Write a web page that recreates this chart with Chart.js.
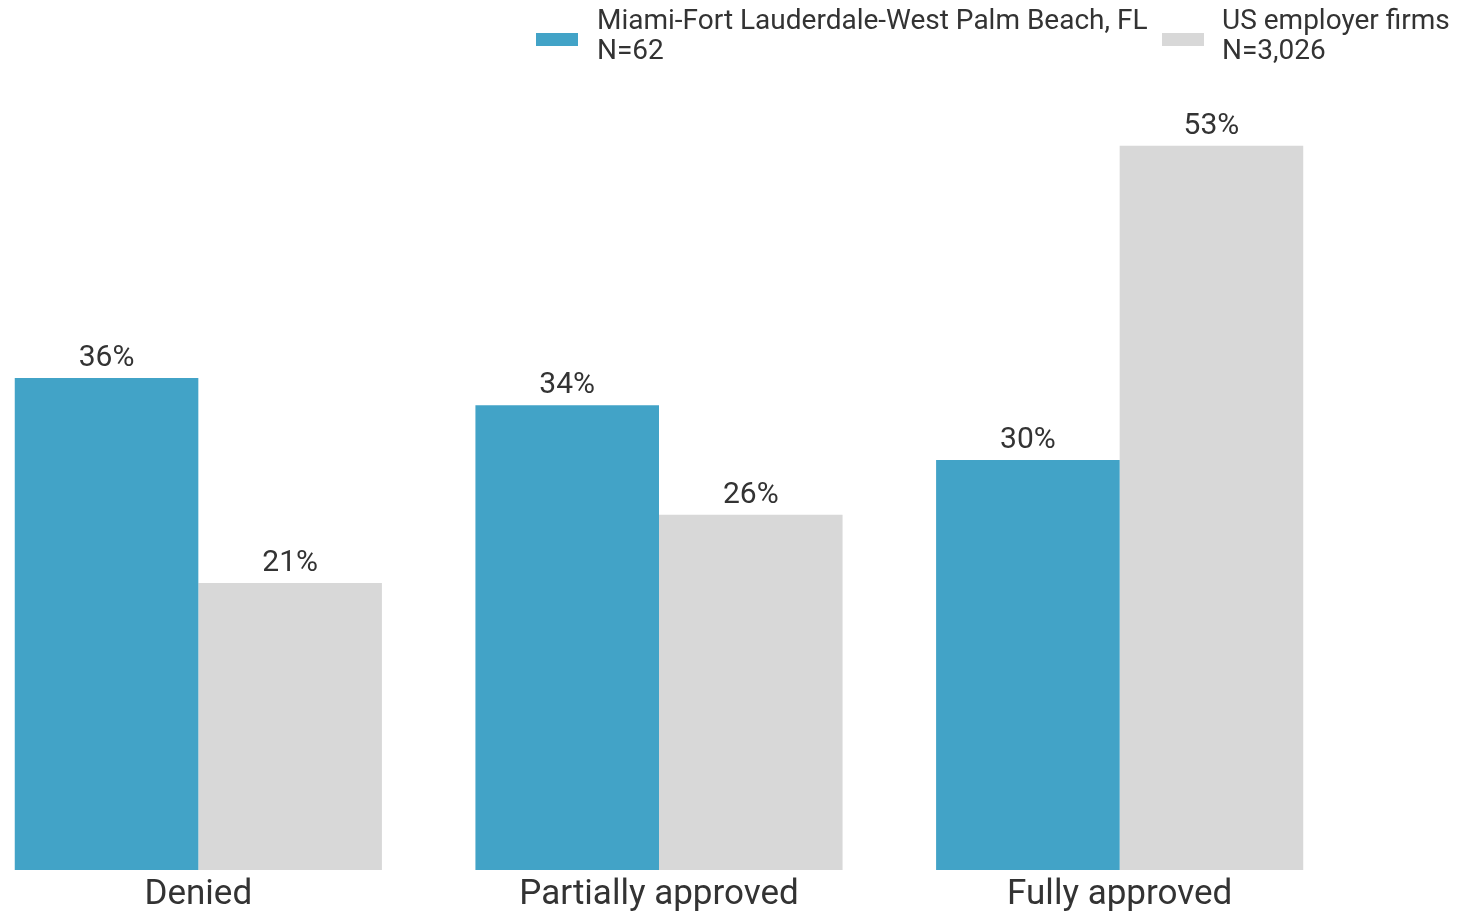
<!DOCTYPE html>
<html>
<head>
<meta charset="utf-8">
<script src="https://cdn.jsdelivr.net/npm/chart.js@4/dist/chart.umd.min.js"></script>
<style>
  html, body { margin: 0; padding: 0; background: #ffffff; }
  #page { position: relative; width: 1460px; height: 915px; overflow: hidden; background: #fff; font-family: Roboto, "Noto Sans", sans-serif; }
  #wrap { position: absolute; left: -32px; top: 0; width: 1382px; height: 920px; }
  .leg { position: absolute; color: #333; font-size: 28px; line-height: 30px; }
  .sw { position: absolute; width: 42px; height: 13px; }
</style>
</head>
<body>
<div id="page">
  <div id="wrap"><canvas id="c"></canvas></div>
  <div class="sw" id="sw0" style="left:536px; top:33px;"></div>
  <div class="leg" id="lg0" style="left:597px; top:5px;"></div>
  <div class="sw" id="sw1" style="left:1162px; top:33px;"></div>
  <div class="leg" id="lg1" style="left:1222px; top:5px;"></div>
</div>
<script>
const categories = ["Denied", "Partially approved", "Fully approved"];
const seriesNames = ["Miami-Fort Lauderdale-West Palm Beach, FL", "US employer firms"];
const seriesN = ["N=62", "N=3,026"];
const miamiValues = [36, 34, 30];
const usValues = [21, 26, 53];
const colors = ["#42A3C7", "#D8D8D8"];

document.getElementById('sw0').style.background = colors[0];
document.getElementById('sw1').style.background = colors[1];
document.getElementById('lg0').innerHTML = seriesNames[0] + '<br>' + seriesN[0];
document.getElementById('lg1').innerHTML = seriesNames[1] + '<br>' + seriesN[1];

const valueLabels = {
  id: 'valueLabels',
  afterDatasetsDraw(chart) {
    const ctx = chart.ctx;
    ctx.save();
    ctx.font = '30px Roboto, sans-serif';
    ctx.fillStyle = '#333333';
    ctx.textAlign = 'center';
    ctx.textBaseline = 'alphabetic';
    chart.data.datasets.forEach((ds, di) => {
      chart.getDatasetMeta(di).data.forEach((bar, i) => {
        ctx.fillText(ds.data[i] + '%', bar.x, bar.y - 12);
      });
    });
    ctx.restore();
  }
};

new Chart(document.getElementById('c'), {
  type: 'bar',
  data: {
    labels: categories,
    datasets: [
      { label: seriesNames[0], data: miamiValues, backgroundColor: colors[0], borderWidth: 0 },
      { label: seriesNames[1], data: usValues, backgroundColor: colors[1], borderWidth: 0 }
    ]
  },
  options: {
    responsive: true,
    maintainAspectRatio: false,
    animation: false,
    layout: { padding: { top: 50, bottom: 0, left: 0, right: 0 } },
    datasets: { bar: { categoryPercentage: 0.797, barPercentage: 1.0 } },
    plugins: { legend: { display: false }, tooltip: { enabled: false } },
    scales: {
      x: {
        grid: { display: false, drawTicks: false },
        border: { display: false },
        ticks: { color: '#333333', font: { family: 'Roboto', size: 35 }, padding: 4 }
      },
      y: {
        display: false,
        min: 0,
        max: 60
      }
    }
  },
  plugins: [valueLabels]
});
</script>
</body>
</html>
